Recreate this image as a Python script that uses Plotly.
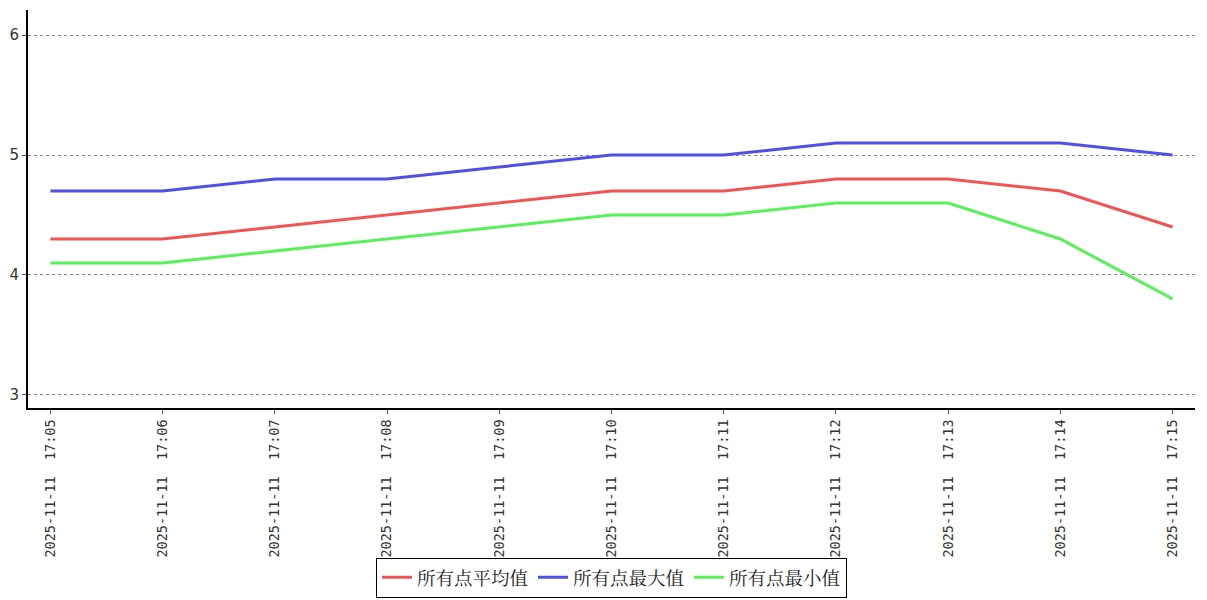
import plotly.graph_objects as go

times = ["2025-11-11  17:05", "2025-11-11  17:06", "2025-11-11  17:07", "2025-11-11  17:08",
         "2025-11-11  17:09", "2025-11-11  17:10", "2025-11-11  17:11", "2025-11-11  17:12",
         "2025-11-11  17:13", "2025-11-11  17:14", "2025-11-11  17:15"]
avg_vals = [4.3, 4.3, 4.4, 4.5, 4.6, 4.7, 4.7, 4.8, 4.8, 4.7, 4.4]
max_vals = [4.7, 4.7, 4.8, 4.8, 4.9, 5.0, 5.0, 5.1, 5.1, 5.1, 5.0]
min_vals = [4.1, 4.1, 4.2, 4.3, 4.4, 4.5, 4.5, 4.6, 4.6, 4.3, 3.8]
names = ["所有点平均值", "所有点最大值", "所有点最小值"]
colors = ["#f05555", "#5050e6", "#5af05a"]

fig = go.Figure()
for name, vals, c in zip(names, [avg_vals, max_vals, min_vals], colors):
    fig.add_trace(go.Scatter(x=times, y=vals, name=name, mode="lines",
                             line=dict(color=c, width=3)))

fig.update_layout(
    width=1207, height=600,
    margin=dict(l=28, r=12, t=10, b=192, autoexpand=False),
    paper_bgcolor="white", plot_bgcolor="white",
    showlegend=True,
    legend=dict(orientation="h", x=0.5, xanchor="center", xref="paper",
                y=-0.477, yanchor="bottom",
                bordercolor="black", borderwidth=1, bgcolor="white",
                font=dict(family="Noto Serif CJK SC, Noto Sans CJK SC", size=18.5, color="#222"),
                itemwidth=30, tracegroupgap=0),
    font=dict(family="DejaVu Sans Mono", color="#333"),
)
fig.update_xaxes(type="category", range=[-0.2, 10.2], tickangle=-90, automargin=False,
                 showline=True, linecolor="black", linewidth=2,
                 ticks="outside", ticklen=4, tickcolor="#555",
                 showgrid=False, tickfont=dict(family="DejaVu Sans Mono", size=13.5, color="#333"))
fig.update_yaxes(range=[2.89, 6.21], tickvals=[3, 4, 5, 6], automargin=False,
                 showline=True, linecolor="black", linewidth=2,
                 ticks="outside", ticklen=4, tickcolor="#555",
                 showgrid=True, gridcolor="#888", griddash="dot", gridwidth=1,
                 zeroline=False,
                 tickfont=dict(family="DejaVu Sans", size=15, color="#333"))

fig.write_html("out.html", config={"displayModeBar": False},
               post_script="document.body.style.margin='0';document.body.style.overflow='hidden';")
